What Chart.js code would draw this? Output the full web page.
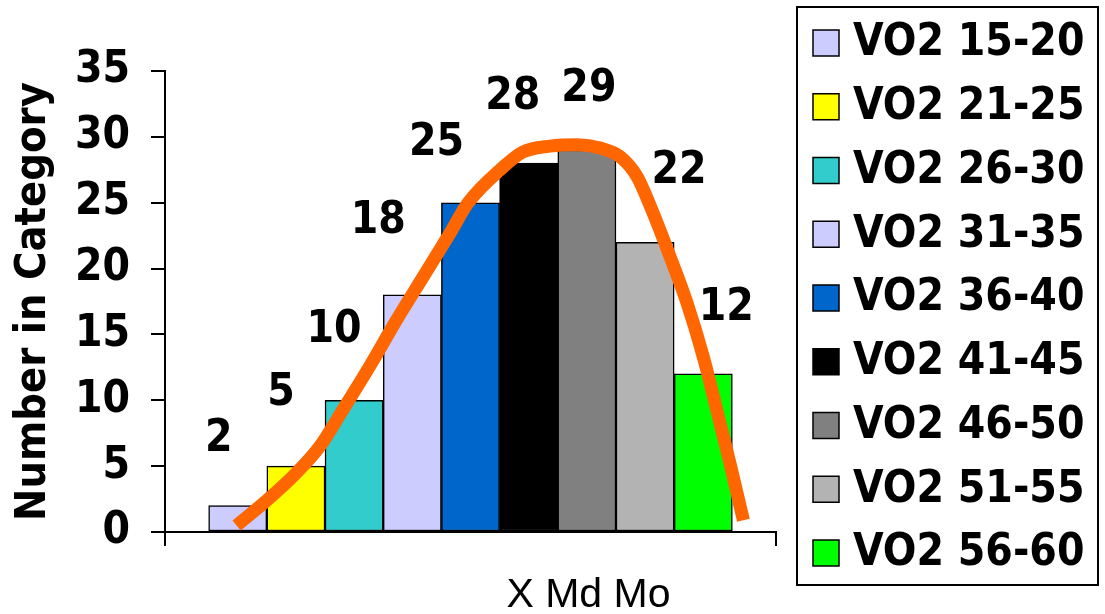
<!DOCTYPE html>
<html>
<head>
<meta charset="utf-8">
<script src="https://cdn.jsdelivr.net/npm/chart.js@4/dist/chart.umd.min.js"></script>
<style>
  html, body { margin: 0; padding: 0; background: #ffffff; }
  #wrap { width: 1105px; height: 614px; }
</style>
</head>
<body>
<div id="wrap"><canvas id="chart" width="1105" height="614"></canvas></div>
<script>
// ---- data ----
const categories = ['X Md Mo'];
const seriesLabels = ['VO2 15-20', 'VO2 21-25', 'VO2 26-30', 'VO2 31-35', 'VO2 36-40',
                      'VO2 41-45', 'VO2 46-50', 'VO2 51-55', 'VO2 56-60'];
const seriesValues = [2, 5, 10, 18, 25, 28, 29, 22, 12];
const seriesColors = ['#CCCCFF', '#FFFF00', '#33CCCC', '#CCCCFF', '#0066CC',
                      '#000000', '#808080', '#B3B3B3', '#00FF00'];
const yTickMin = 0, yTickMax = 35, yTickStep = 5;
// smoothed frequency curve, x measured in bar widths from the first bar's left edge
const curveX = [0.48, 1.00, 1.51, 1.91, 2.31, 2.77, 3.23, 3.69, 4.15, 4.46, 5.01, 5.40,
                5.87, 6.33, 6.73, 7.07, 7.36, 7.64, 7.93, 8.22, 8.50, 8.73, 8.96, 9.19];
const curveY = [0.5, 2.4, 4.5, 6.5, 9.3, 12.6, 16.1, 19.4, 22.7, 25.0, 27.5, 28.85,
                29.3, 29.4, 29.15, 28.5, 27.0, 24.2, 20.9, 17.4, 13.3, 9.3, 5.2, 0.9];

// ---- fonts ----
function widthOf(family) {
  const ctx = document.createElement('canvas').getContext('2d');
  ctx.font = 'bold 40px ' + family;
  return ctx.measureText('VO2 15-20 Number in Category').width;
}
const condensedOk = widthOf('"DejaVu Sans Condensed", monospace') < widthOf('"DejaVu Sans", monospace') * 0.95;
const BOLD_FACE = condensedOk ? '"DejaVu Sans Condensed", "DejaVu Sans", sans-serif'
                              : '"Liberation Sans", Arial, sans-serif';
const BOLD_SIZE = condensedOk ? 44 : 46;
const TITLE_SIZE = condensedOk ? 43 : 45;
const PLAIN_FACE = '"Liberation Sans", Arial, sans-serif';

// value labels, nudged beside the curve
const labelNudge = [[-19, -66], [-15, -73], [-20, -70], [-34, -73], [-34, -59],
                    [-16, -66], [2, -60], [34, -71], [23, -65]];

const valueLabels = {
  id: 'valueLabels',
  afterDatasetsDraw(chart) {
    const ctx = chart.ctx;
    ctx.save();
    ctx.font = 'bold ' + BOLD_SIZE + 'px ' + BOLD_FACE;
    ctx.fillStyle = '#000000';
    ctx.textAlign = 'center';
    ctx.textBaseline = 'middle';
    seriesValues.forEach((v, i) => {
      const bar = chart.getDatasetMeta(i).data[0];
      ctx.fillText(String(v), bar.x + labelNudge[i][0], bar.y + labelNudge[i][1]);
    });
    ctx.restore();
  }
};

// framed legend on the right
const boxedLegend = {
  id: 'boxedLegend',
  afterDraw(chart) {
    const ctx = chart.ctx;
    ctx.save();
    ctx.lineWidth = 2;
    ctx.strokeStyle = '#000000';
    ctx.strokeRect(797, 7, 301, 578);
    ctx.font = 'bold ' + BOLD_SIZE + 'px ' + BOLD_FACE;
    ctx.textAlign = 'left';
    ctx.textBaseline = 'middle';
    seriesLabels.forEach((label, i) => {
      const cy = 43 + i * 63.75;
      ctx.fillStyle = chart.data.datasets[i].backgroundColor;
      ctx.fillRect(813, cy - 13, 26, 26);
      ctx.lineWidth = 1.5;
      ctx.strokeRect(813, cy - 13, 26, 26);
      ctx.fillStyle = '#000000';
      ctx.fillText(label, 853, cy + 1);
    });
    ctx.restore();
  }
};

// one bar per class, side by side along a hidden position axis
const barSets = seriesLabels.map((label, i) => ({
  type: 'bar',
  label: label,
  data: [{ x: i + 0.5, y: seriesValues[i] }],
  backgroundColor: seriesColors[i],
  borderColor: '#000000',
  borderWidth: 1.5,
  borderSkipped: false,
  grouped: false,
  categoryPercentage: 1,
  barPercentage: 1,
  xAxisID: 'xb',
  yAxisID: 'y',
  order: 1
}));

const curveSet = {
  type: 'line',
  label: 'curve',
  data: curveX.map((x, i) => ({ x: x, y: curveY[i] })),
  borderColor: '#FF6600',
  borderWidth: 13,
  borderCapStyle: 'butt',
  borderJoinStyle: 'round',
  pointRadius: 0,
  cubicInterpolationMode: 'monotone',
  fill: false,
  xAxisID: 'xl',
  yAxisID: 'y',
  order: 0,
  clip: false
};

// hidden position axes: no ticks, so bar width comes from the spacing of the bars
const hiddenPositionAxis = () => ({
  type: 'linear',
  display: false,
  offset: false,
  min: -0.75,
  max: 9.75,
  grid: { offset: false },
  afterBuildTicks(scale) { scale.ticks = []; }
});

new Chart(document.getElementById('chart'), {
  type: 'bar',
  data: { labels: categories, datasets: [...barSets, curveSet] },
  options: {
    responsive: false,
    animation: false,
    devicePixelRatio: 1,
    layout: { padding: { top: 71, right: 329, bottom: 0, left: 0 } },
    plugins: { legend: { display: false }, tooltip: { enabled: false } },
    scales: {
      x: {
        type: 'category',
        offset: true,
        border: { display: true, color: '#000000', width: 2 },
        grid: { offset: true, drawOnChartArea: false, drawTicks: true, tickLength: 14,
                color: '#000000', lineWidth: 2 },
        ticks: { color: '#000000', padding: 25, labelOffset: 118,
                 font: { family: PLAIN_FACE, size: 41, weight: 'normal' } },
        afterFit(scale) { scale.height = 82; }
      },
      xb: hiddenPositionAxis(),
      xl: hiddenPositionAxis(),
      y: {
        type: 'linear',
        min: yTickMin,
        max: yTickMax,
        border: { display: true, color: '#000000', width: 2 },
        grid: { drawOnChartArea: false, drawTicks: true, tickLength: 14,
                color: '#000000', lineWidth: 2 },
        ticks: { stepSize: yTickStep, color: '#000000', padding: 21,
                 font: { family: BOLD_FACE, size: BOLD_SIZE, weight: 'bold' } },
        title: { display: true, text: 'Number in Category', color: '#000000',
                 padding: { top: 8, bottom: 0 },
                 font: { family: BOLD_FACE, size: TITLE_SIZE, weight: 'bold' } },
        afterFit(scale) { scale.width = 165; }
      }
    }
  },
  plugins: [valueLabels, boxedLegend]
});
</script>
</body>
</html>
